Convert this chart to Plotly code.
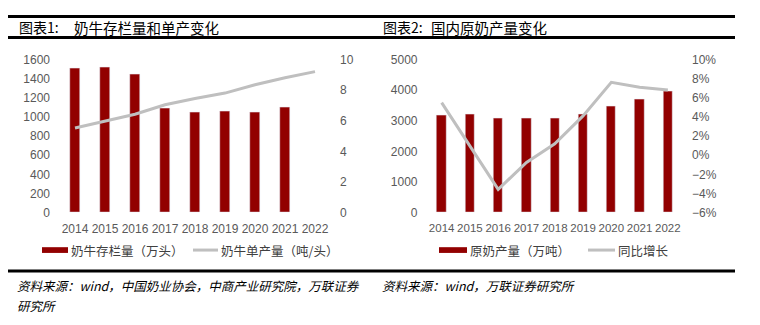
import plotly.graph_objects as go

# ---- data ----
years = ["2014", "2015", "2016", "2017", "2018", "2019", "2020", "2021", "2022"]

# 图表1: 奶牛存栏量 (万头) and 奶牛单产量 (吨/头)
herd = [1507, 1512, 1440, 1090, 1043, 1057, 1050, 1100, None]
yield_per_head = [5.53, 6.0, 6.42, 7.04, 7.45, 7.8, 8.34, 8.8, 9.2]

# 图表2: 原奶产量 (万吨) and 同比增长
milk = [3187, 3218, 3084, 3062, 3093, 3210, 3460, 3700, 3950]
yoy = [0.0548, 0.0095, -0.0357, -0.0075, 0.012, 0.041, 0.076, 0.071, 0.068]

left_titles = ("图表1:", "奶牛存栏量和单产变化")
right_titles = ("图表2:", "国内原奶产量变化")
left_legend = ["奶牛存栏量（万头）", "奶牛单产量（吨/头）"]
right_legend = ["原奶产量（万吨）", "同比增长"]
left_source = ["资料来源：wind，中国奶业协会，中商产业研究院，万联证券", "研究所"]
right_source = "资料来源：wind，万联证券研究所"

# ---- style ----
W, H = 760, 325
BAR = "#920000"
LINE = "#BFBFBF"
TICK = "#595959"
CJK = "Noto Sans CJK SC"
NUM = "Liberation Sans, Arial, sans-serif"


def px(x):
    return x / W


def py(y):
    return 1 - y / H


fig = go.Figure()

fig.add_trace(go.Bar(x=years, y=herd, name=left_legend[0], marker_color=BAR,
                     width=0.32, xaxis="x", yaxis="y", showlegend=False))
fig.add_trace(go.Scatter(x=years, y=yield_per_head, name=left_legend[1], mode="lines",
                         line=dict(color=LINE, width=3), xaxis="x", yaxis="y2",
                         showlegend=False))
fig.add_trace(go.Bar(x=years, y=milk, name=right_legend[0], marker_color=BAR,
                     width=0.33, xaxis="x2", yaxis="y3", showlegend=False))
fig.add_trace(go.Scatter(x=years, y=yoy, name=right_legend[1], mode="lines",
                         line=dict(color=LINE, width=3), xaxis="x2", yaxis="y4",
                         showlegend=False))

tickfont = dict(family=NUM, size=12, color=TICK)
ydom = [py(215), py(54.7)]

common_x = dict(type="category", range=[-0.5, 8.5], showgrid=False, zeroline=False,
                showline=False, ticks="", tickangle=0, tickfont=tickfont,
                ticklabelstandoff=7)
common_y = dict(showgrid=False, zeroline=False, showline=False, ticks="",
                tickfont=tickfont, ticklabelstandoff=9)

fig.update_layout(
    width=W, height=H,
    margin=dict(l=0, r=0, t=0, b=0),
    paper_bgcolor="white", plot_bgcolor="white",
    bargap=0,
    xaxis=dict(domain=[px(60), px(330)], anchor="y", **common_x),
    yaxis=dict(domain=ydom, range=[0, 1600], dtick=200, anchor="x", **common_y),
    yaxis2=dict(range=[0, 10], dtick=2, overlaying="y", side="right", anchor="x",
                **common_y),
    xaxis2=dict(domain=[px(427.5), px(682)], anchor="y3",
                **{**common_x, "tickfont": dict(family=NUM, size=11.5, color=TICK)}),
    yaxis3=dict(domain=ydom, range=[0, 5000], dtick=1000, anchor="x2", **common_y),
    yaxis4=dict(range=[-0.06, 0.10], dtick=0.02, tickformat=".0%", overlaying="y3",
                side="right", anchor="x2", **common_y),
)

shapes = []
# horizontal rules above/below the titles and above the sources
for y in (10, 32, 276):
    shapes.append(dict(type="line", xref="paper", yref="paper",
                       x0=px(8), x1=px(735), y0=py(y), y1=py(y),
                       line=dict(color="black", width=3)))

annotations = []


def text(x, y, s, size, color="black", italic=False):
    annotations.append(dict(
        xref="paper", yref="paper", x=px(x), y=py(y), text=s, showarrow=False,
        xanchor="left", yanchor="middle", align="left",
        font=dict(family=CJK, size=size, color=color,
                  style="italic" if italic else "normal")))


text(17, 21, left_titles[0], 14)
text(72, 21, left_titles[1], 14.5)
text(381, 21, right_titles[0], 14)
text(429, 21, right_titles[1], 14.5)


# legend keys
def legend_bar(x0, x1, y):
    shapes.append(dict(type="rect", xref="paper", yref="paper",
                       x0=px(x0), x1=px(x1), y0=py(y + 3), y1=py(y - 3),
                       fillcolor=BAR, line=dict(width=0)))


def legend_line(x0, x1, y):
    shapes.append(dict(type="line", xref="paper", yref="paper",
                       x0=px(x0), x1=px(x1), y0=py(y), y1=py(y),
                       line=dict(color=LINE, width=3)))


LEG_Y = 254
LEG_C = "#404040"
legend_bar(42, 68, LEG_Y)
text(69, LEG_Y, left_legend[0], 12.5, LEG_C)
legend_line(193, 218, LEG_Y)
text(219, LEG_Y, left_legend[1], 12.5, LEG_C)
legend_bar(439, 467, LEG_Y)
text(468, LEG_Y, right_legend[0], 12.5, LEG_C)
legend_line(588, 615, LEG_Y)
text(616, LEG_Y, right_legend[1], 12.5, LEG_C)

# sources
text(15, 291, left_source[0], 12.5, italic=True)
text(15, 312, left_source[1], 12.5, italic=True)
text(380, 291, right_source, 12.5, italic=True)

fig.update_layout(shapes=shapes, annotations=annotations)

fig.write_html("out.html")
